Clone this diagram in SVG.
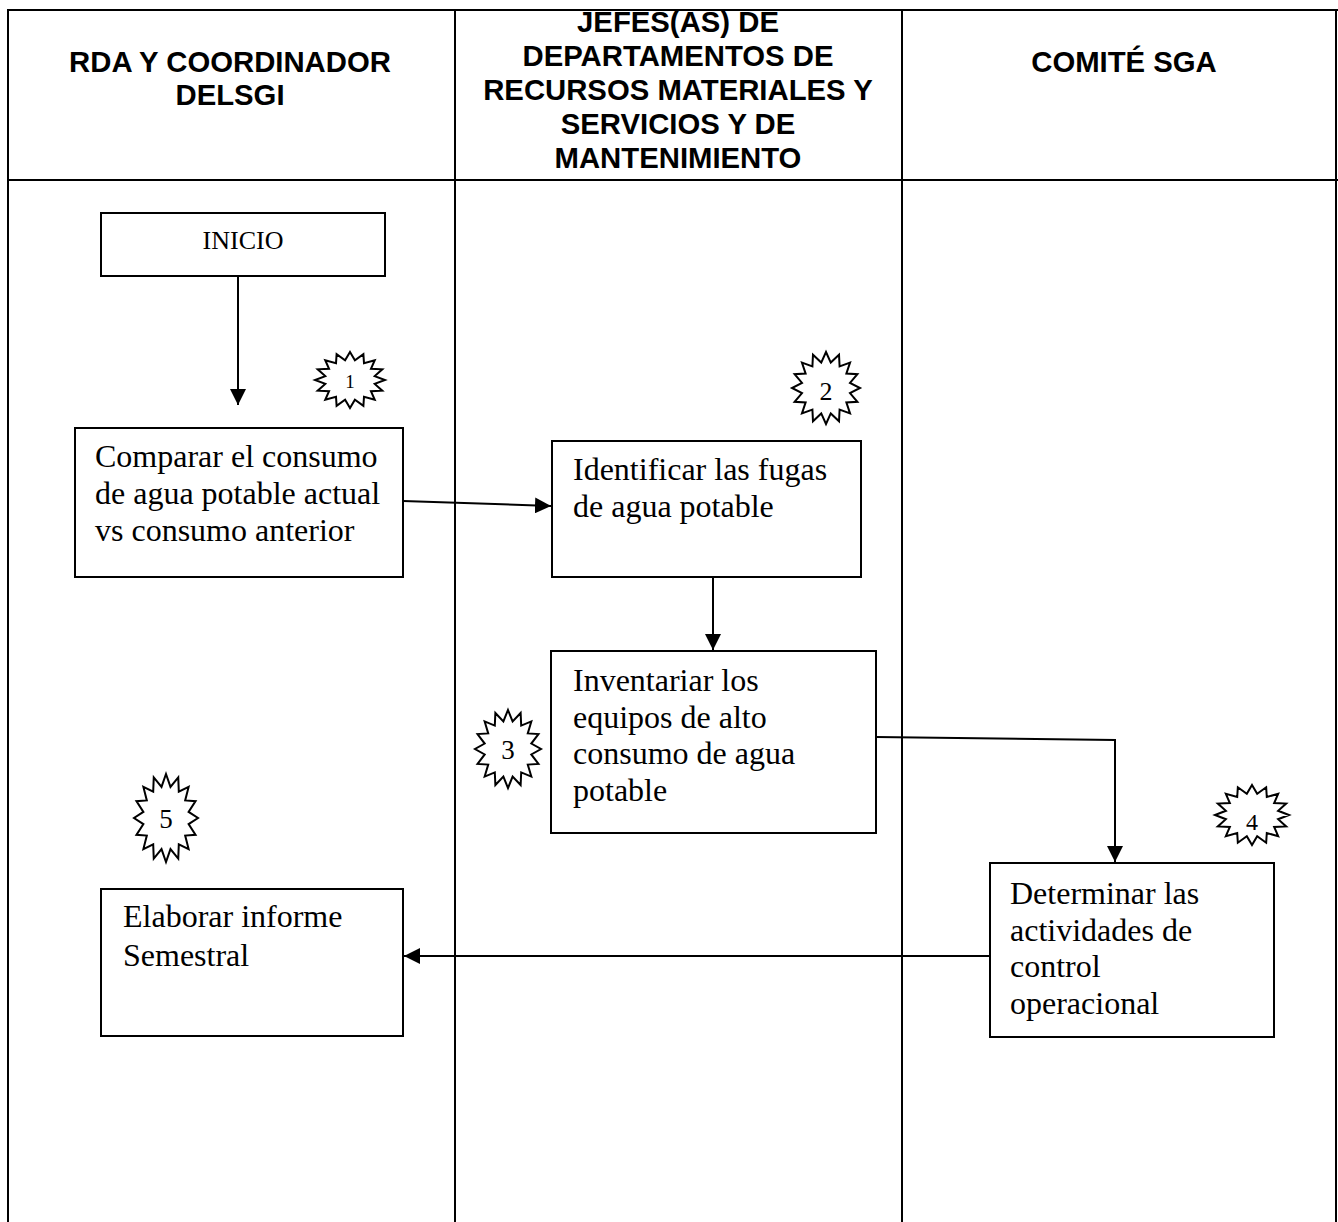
<svg xmlns="http://www.w3.org/2000/svg" xmlns:xlink="http://www.w3.org/1999/xlink" width="1338" height="1222" viewBox="0 0 1338 1222">
<style>
.grid{stroke:#000;stroke-width:2;fill:none}
.hdr{font-family:"Liberation Sans",Arial,sans-serif;font-weight:bold;font-size:29.3px;fill:#000;text-anchor:middle}
.box{fill:#fff;stroke:#000;stroke-width:2}
.txt{font-family:"Liberation Serif","Times New Roman",serif;font-size:32px;fill:#000}
.num{font-family:"Liberation Serif","Times New Roman",serif;fill:#000;text-anchor:middle}
.conn{stroke:#000;stroke-width:2;fill:none}
.star{fill:#fff;stroke:#000;stroke-width:2;vector-effect:non-scaling-stroke}
</style>
<defs>
<marker id="arr" markerUnits="userSpaceOnUse" markerWidth="18" markerHeight="16" refX="16" refY="8" orient="auto">
<path d="M0,0 L16,8 L0,16 Z" fill="#000"/>
</marker>
<polygon id="starshape" class="star" points="0,-1 0.140,-0.706 0.3827,-0.9239 0.400,-0.599 0.7071,-0.7071 0.599,-0.400 0.9239,-0.3827 0.706,-0.140 1,0 0.706,0.140 0.9239,0.3827 0.599,0.400 0.7071,0.7071 0.400,0.599 0.3827,0.9239 0.140,0.706 0,1 -0.140,0.706 -0.3827,0.9239 -0.400,0.599 -0.7071,0.7071 -0.599,0.400 -0.9239,0.3827 -0.706,0.140 -1,0 -0.706,-0.140 -0.9239,-0.3827 -0.599,-0.400 -0.7071,-0.7071 -0.400,-0.599 -0.3827,-0.9239 -0.140,-0.706"/>
</defs>
<rect width="1338" height="1222" fill="#fff"/>
<g id="table">
<line class="grid" x1="8" y1="10" x2="1338" y2="10"/>
<line class="grid" x1="8" y1="180" x2="1338" y2="180"/>
<line class="grid" x1="8" y1="9" x2="8" y2="1222"/>
<line class="grid" x1="455" y1="9" x2="455" y2="1222"/>
<line class="grid" x1="902" y1="9" x2="902" y2="1222"/>
<line class="grid" x1="1336" y1="9" x2="1336" y2="1222"/>
<text class="hdr" x="230" y="72">RDA Y COORDINADOR</text>
<text class="hdr" x="230" y="105">DELSGI</text>
<text class="hdr" x="678" y="32">JEFES(AS) DE</text>
<text class="hdr" x="678" y="66">DEPARTAMENTOS DE</text>
<text class="hdr" x="678" y="100">RECURSOS MATERIALES Y</text>
<text class="hdr" x="678" y="134">SERVICIOS Y DE</text>
<text class="hdr" x="678" y="168">MANTENIMIENTO</text>
<text class="hdr" x="1124" y="72">COMITÉ SGA</text>
</g>
<g id="connectors">
<line class="conn" x1="238" y1="276" x2="238" y2="405" marker-end="url(#arr)"/>
<line class="conn" x1="403" y1="501" x2="551" y2="506" marker-end="url(#arr)"/>
<line class="conn" x1="713" y1="577" x2="713" y2="650" marker-end="url(#arr)"/>
<polyline class="conn" points="876,737 1115,740 1115,862" marker-end="url(#arr)"/>
<line class="conn" x1="990" y1="956" x2="404" y2="956" marker-end="url(#arr)"/>
</g>
<g id="inicio">
<rect class="box" x="101" y="213" width="284" height="63"/>
<text class="num" x="243" y="249" font-size="26">INICIO</text>
</g>
<g id="comparar">
<rect class="box" x="75" y="428" width="328" height="149"/>
<text class="txt" x="95" y="467">Comparar el consumo</text>
<text class="txt" x="95" y="504">de agua potable actual</text>
<text class="txt" x="95" y="541">vs consumo anterior</text>
</g>
<g id="identificar">
<rect class="box" x="552" y="441" width="309" height="136"/>
<text class="txt" x="573" y="480">Identificar las fugas</text>
<text class="txt" x="573" y="517">de agua potable</text>
</g>
<g id="inventariar">
<rect class="box" x="551" y="651" width="325" height="182"/>
<text class="txt" x="573" y="691">Inventariar los</text>
<text class="txt" x="573" y="728">equipos de alto</text>
<text class="txt" x="573" y="764">consumo de agua</text>
<text class="txt" x="573" y="801">potable</text>
</g>
<g id="determinar">
<rect class="box" x="990" y="863" width="284" height="174"/>
<text class="txt" x="1010" y="904">Determinar las</text>
<text class="txt" x="1010" y="941">actividades de</text>
<text class="txt" x="1010" y="977">control</text>
<text class="txt" x="1010" y="1014">operacional</text>
</g>
<g id="elaborar">
<rect class="box" x="101" y="889" width="302" height="147"/>
<text class="txt" x="123" y="927">Elaborar informe</text>
<text class="txt" x="123" y="966">Semestral</text>
</g>
<g id="star1">
<use xlink:href="#starshape" transform="translate(350,380) scale(35,28)"/>
<text class="num" x="350" y="388" font-size="19">1</text>
</g>
<g id="star2">
<use xlink:href="#starshape" transform="translate(826,388) scale(34,36)"/>
<text class="num" x="826" y="400" font-size="26">2</text>
</g>
<g id="star3">
<use xlink:href="#starshape" transform="translate(508,749) scale(33,39)"/>
<text class="num" x="508" y="759" font-size="27">3</text>
</g>
<g id="star4">
<use xlink:href="#starshape" transform="translate(1252,815) scale(37,30)"/>
<text class="num" x="1252" y="830" font-size="24" font-family="Liberation Sans, Arial, sans-serif">4</text>
</g>
<g id="star5">
<use xlink:href="#starshape" transform="translate(166,818) scale(32,44)"/>
<text class="num" x="166" y="828" font-size="27">5</text>
</g>
</svg>
